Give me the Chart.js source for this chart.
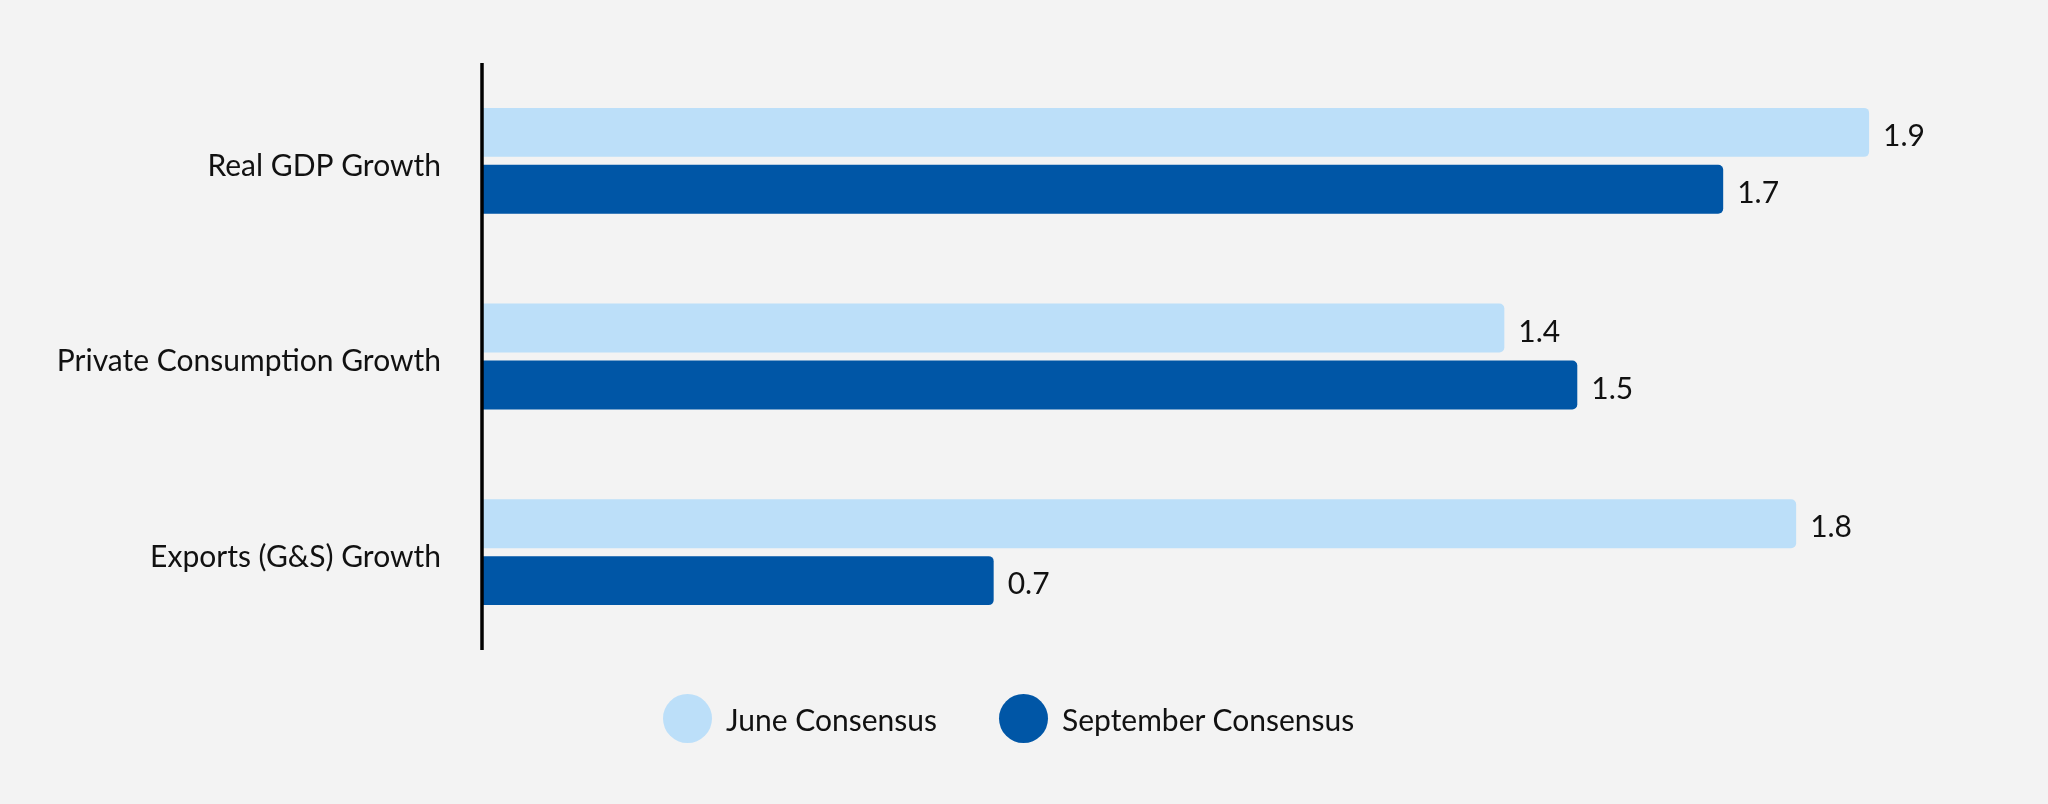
<!DOCTYPE html>
<html>
<head>
<meta charset="utf-8">
<script src="https://cdn.jsdelivr.net/npm/chart.js@4.4.1/dist/chart.umd.min.js"></script>
<style>
  html, body { margin: 0; padding: 0; background: #f3f3f3; }
  #wrap { position: relative; width: 2048px; height: 804px; }
  .item { position: absolute; top: 694px; display: flex; align-items: center;
          font-family: Lato, sans-serif; font-size: 30px; color: #111; white-space: nowrap; }
  .dot { width: 49px; height: 49px; border-radius: 50%; margin-right: 14px; }
</style>
</head>
<body>
<div id="wrap">
  <canvas id="grafica" width="2048" height="804"></canvas>
  <div id="legend"></div>
</div>
<script>
const categorias = ['Real GDP Growth', 'Private Consumption Growth', 'Exports (G&S) Growth'];
const junio = [1.9, 1.4, 1.8];
const septiembre = [1.7, 1.5, 0.7];
const nombres = ['June Consensus', 'September Consensus'];
const colores = ['#bcdff9', '#0056a6'];

const lineaEje = {
    id: 'lineaEje',
    afterDraw(chart) {
        const ctx = chart.ctx;
        const area = chart.chartArea;
        ctx.save();
        ctx.strokeStyle = '#000';
        ctx.lineWidth = 3.5;
        ctx.beginPath();
        ctx.moveTo(area.left - 1, area.top);
        ctx.lineTo(area.left - 1, area.bottom);
        ctx.stroke();
        ctx.restore();
    }
};

const etiquetas = {
    id: 'etiquetas',
    afterDatasetsDraw(chart) {
        const ctx = chart.ctx;
        ctx.save();
        ctx.font = '30px Lato, sans-serif';
        ctx.fillStyle = '#111';
        ctx.textBaseline = 'middle';
        chart.data.datasets.forEach((ds, i) => {
            chart.getDatasetMeta(i).data.forEach((bar, j) => {
                ctx.fillText(ds.data[j].toFixed(1), bar.x + 14, bar.y + 4);
            });
        });
        ctx.restore();
    }
};

const grafica = new Chart(document.getElementById('grafica'), {
    type: 'bar',
    data: {
        labels: categorias,
        datasets: [{
            label: nombres[0],
            data: junio,
            backgroundColor: colores[0],
            borderRadius: 5,
            categoryPercentage: 0.582,
            barPercentage: 0.86
        }, {
            label: nombres[1],
            data: septiembre,
            backgroundColor: colores[1],
            borderRadius: 5,
            categoryPercentage: 0.582,
            barPercentage: 0.86
        }]
    },
    options: {
        indexAxis: 'y',
        responsive: false,
        animation: false,
        layout: { padding: { top: 63, bottom: 154, right: 33, left: 0 } },
        scales: {
            x: { display: false, min: 0, max: 2.1 },
            y: {
                grid: { display: false, drawTicks: false },
                border: { display: false },
                ticks: {
                    padding: 42,
                    labelOffset: 5,
                    color: '#111',
                    font: { family: 'Lato, sans-serif', size: 30 }
                },
                afterFit(scale) { scale.width = 483; }
            }
        },
        plugins: {
            legend: { display: false },
            tooltip: { enabled: false }
        }
    },
    plugins: [lineaEje, etiquetas]
});

const posiciones = [663, 999];
const leyenda = document.getElementById('legend');
nombres.forEach((n, i) => {
    const item = document.createElement('div');
    item.className = 'item';
    item.style.left = posiciones[i] + 'px';
    item.innerHTML = '<span class="dot" style="background:' + colores[i] + '"></span><span>' + n + '</span>';
    leyenda.appendChild(item);
});
</script>
</body>
</html>
